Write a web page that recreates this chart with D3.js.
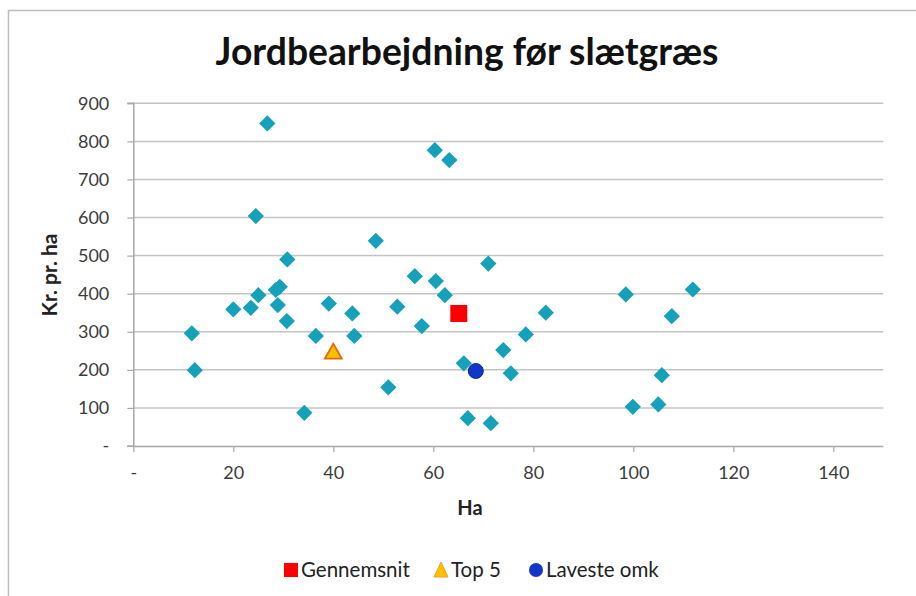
<!DOCTYPE html>
<html><head><meta charset="utf-8">
<script src="https://cdn.jsdelivr.net/npm/d3@7"></script>
<style>body{margin:0;background:#fff;} svg{display:block;}</style>
</head><body>
<svg id="c" width="916" height="596"></svg>
<script>
// Data (Ha, Kr. pr. ha)
const farmHa   = [11.7,12.3,20,23.5,25,28.5,29.3,28.9,30.7,30.8,34.2,36.5,39.1,43.8,44.2,26.8,24.5,60.3,63.2,48.5,71,56.3,60.5,62.3,98.5,52.8,82.5,57.7,78.5,74,66.1,75.5,51,99.9,66.9,71.5,111.9,107.7,105.7,105];
const farmKr   = [296,199,359,363,396,410,418,370,328,490,87,289,374,348,289,847,604,777,751,539,479,446,433,396,398,366,350,315,293,252,217,191,154,103,73,60,411,341,186,109];
const avgHa = [65.1], avgKr = [348];
const topHa = [40], topKr = [245];
const lowHa = [68.5], lowKr = [197];
const xTicks = [0,20,40,60,80,100,120,140];
const yTicks = [0,100,200,300,400,500,600,700,800,900];
const legendLabels = ["Gennemsnit","Top 5","Laveste omk"];
const titleText = "Jordbearbejdning før slætgræs";

const svg = d3.select("#c");
const FONT = "Lato, 'Open Sans', sans-serif";
const x = d3.scaleLinear().domain([0,150]).range([133.3,883.3]);
const y = d3.scaleLinear().domain([0,900]).range([446,103.3]);

// outer frame
svg.append("path").attr("d","M8.5,600 V10.5 H920").attr("fill","none").attr("stroke","#bdbdbd").attr("stroke-width",1.5);

// title
const t = svg.append("text").attr("x",467).attr("y",65).attr("text-anchor","middle")
  .attr("font-family",FONT).attr("font-weight","bold").attr("font-size",33).attr("fill","#111").text(titleText);
const tw = t.node().getComputedTextLength();
t.attr("font-size", 33*503/tw);

// gridlines
svg.append("g").selectAll("line").data(yTicks.filter(d=>d>0)).join("line")
  .attr("x1",x(0)).attr("x2",x(150)).attr("y1",d=>y(d)).attr("y2",d=>y(d))
  .attr("stroke","#c4c4c4").attr("stroke-width",1.5);

// axes
const fmt = d => d===0 ? "-" : String(d);
const yAxis = svg.append("g").attr("transform",`translate(${x(0)},0)`)
  .call(d3.axisLeft(y).tickValues(yTicks).tickFormat(fmt).tickSize(6).tickPadding(18));
const xAxis = svg.append("g").attr("transform",`translate(0,${y(0)})`)
  .call(d3.axisBottom(x).tickValues(xTicks).tickFormat(fmt).tickSize(6).tickPadding(14));
[yAxis,xAxis].forEach(a=>{
  a.select(".domain").attr("stroke","#a8a8a8").attr("stroke-width",1.5);
  a.selectAll(".tick line").attr("stroke","#a8a8a8").attr("stroke-width",1.2);
  a.selectAll("text").attr("font-family",FONT).attr("font-size",18).attr("fill","#3c3c3c");
});
xAxis.select(".domain").attr("d",`M${x(0)},0.5H${x(150)}`);
yAxis.select(".domain").attr("d",`M-6,${y(900)}H0.5V${y(0)}H-6`);

// axis titles
svg.append("text").attr("x",470).attr("y",515).attr("text-anchor","middle")
  .attr("font-family",FONT).attr("font-weight","bold").attr("font-size",20).attr("fill","#222").text("Ha");
svg.append("text").attr("transform","translate(57,275) rotate(-90)").attr("text-anchor","middle")
  .attr("font-family",FONT).attr("font-weight","bold").attr("font-size",21).attr("fill","#222").text("Kr. pr. ha");

// farms (diamonds)
const farms = farmHa.map((h,i)=>({h,k:farmKr[i]}));
svg.append("g").selectAll("path").data(farms).join("path")
  .attr("transform",d=>`translate(${x(d.h)},${y(d.k)}) rotate(45)`)
  .attr("d",d3.symbol().type(d3.symbolSquare).size(132)())
  .attr("fill","#15a1ba");

// average
svg.append("g").selectAll("rect").data(avgHa.map((h,i)=>({h,k:avgKr[i]}))).join("rect")
  .attr("x",d=>x(d.h)-8.5).attr("y",d=>y(d.k)-8.5).attr("width",17).attr("height",17).attr("fill","#ff0000");
// top 5
svg.append("g").selectAll("path").data(topHa.map((h,i)=>({h,k:topKr[i]}))).join("path")
  .attr("transform",d=>`translate(${x(d.h)},${y(d.k)})`)
  .attr("d","M0,-9 L8.5,6 L-8.5,6 Z").attr("fill","#ffc000").attr("stroke","#e36c0a").attr("stroke-width",1.8);
// lowest
svg.append("g").selectAll("circle").data(lowHa.map((h,i)=>({h,k:lowKr[i]}))).join("circle")
  .attr("cx",d=>x(d.h)).attr("cy",d=>y(d.k)).attr("r",7.5).attr("fill","#1237c8").attr("stroke","#0c2a93").attr("stroke-width",1);

// legend
const lg = svg.append("g").attr("font-family",FONT).attr("font-size",20.5).attr("fill","#222");
const lx = [301,451,546];
lg.append("rect").attr("x",284).attr("y",563).attr("width",14).attr("height",14).attr("fill","#ff0000");
lg.append("path").attr("d","M441,562 L448,577 L434,577 Z").attr("fill","#ffc000").attr("stroke","#f0a030").attr("stroke-width",1);
lg.append("circle").attr("cx",536).attr("cy",570).attr("r",7).attr("fill","#1237c8");
lg.selectAll("text").data(legendLabels).join("text").attr("x",(d,i)=>lx[i]).attr("y",577).text(d=>d);
</script>
</body></html>
